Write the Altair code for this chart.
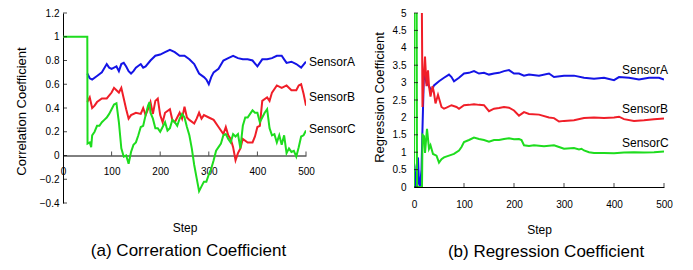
import altair as alt
import pandas as pd

FONT = "Liberation Sans"
series_names = ["SensorA", "SensorB", "SensorC"]
colors = ["#1414e6", "#f01e28", "#1edc1e"]

# ---------------- (a) Correlation coefficient ----------------
corr_a_steps = [50, 55, 60, 70, 80, 90, 95, 100, 105, 110, 115, 120, 125, 130, 135,
                140, 145, 150, 160, 165, 170, 180, 190, 200, 210, 220, 230, 240, 250, 260,
                270, 280, 290, 295, 300, 305, 310, 320, 330, 340, 350, 360, 370, 380, 390,
                400, 410, 420, 430, 440, 450, 455, 460, 470, 480, 490, 500]
corr_a_vals = [0.69, 0.65, 0.64, 0.67, 0.70, 0.77, 0.74, 0.73, 0.74, 0.75, 0.71, 0.77, 0.78, 0.75, 0.71,
               0.69, 0.71, 0.74, 0.77, 0.74, 0.75, 0.80, 0.84, 0.85, 0.87, 0.89, 0.87, 0.84, 0.84, 0.81,
               0.77, 0.69, 0.66, 0.64, 0.60, 0.66, 0.70, 0.73, 0.80, 0.82, 0.84, 0.82, 0.81, 0.81, 0.80,
               0.75, 0.81, 0.81, 0.82, 0.84, 0.84, 0.81, 0.78, 0.79, 0.77, 0.74, 0.79]

corr_b_steps = [50, 55, 60, 65, 70, 80, 90, 100, 105, 110, 115, 120, 125, 130, 135,
                140, 150, 160, 165, 170, 175, 180, 185, 190, 195, 200, 205, 210, 220, 225,
                230, 240, 245, 250, 255, 260, 270, 275, 280, 285, 290, 300, 310, 320, 330,
                335, 340, 345, 350, 355, 360, 365, 370, 380, 390, 395, 400, 405, 410, 420,
                425, 430, 440, 450, 460, 470, 480, 485, 490, 495, 500]
corr_b_vals = [0.45, 0.49, 0.40, 0.42, 0.45, 0.48, 0.48, 0.53, 0.57, 0.55, 0.53, 0.57, 0.48, 0.39, 0.31,
               0.34, 0.36, 0.35, 0.40, 0.34, 0.39, 0.45, 0.35, 0.46, 0.48, 0.34, 0.28, 0.36, 0.39, 0.30,
               0.28, 0.36, 0.31, 0.41, 0.32, 0.30, 0.27, 0.31, 0.36, 0.31, 0.34, 0.32, 0.30, 0.24, 0.18,
               0.24, 0.17, 0.14, 0.07, -0.04, 0.02, 0.06, 0.14, 0.11, 0.11, 0.16, 0.24, 0.25, 0.46, 0.49,
               0.46, 0.53, 0.59, 0.57, 0.59, 0.55, 0.55, 0.59, 0.60, 0.52, 0.42]

corr_c_steps = [0, 50, 50.5, 55, 58, 60, 65, 70, 75, 80, 85, 90, 95, 100, 105,
                110, 115, 120, 125, 130, 135, 140, 145, 150, 155, 160, 165, 170, 175, 178,
                180, 185, 190, 195, 200, 205, 210, 215, 220, 225, 230, 235, 240, 245, 250,
                255, 260, 265, 270, 275, 280, 285, 290, 295, 300, 305, 310, 315, 320, 325,
                330, 335, 340, 345, 350, 355, 360, 365, 370, 375, 380, 385, 390, 395, 400,
                405, 410, 415, 420, 425, 430, 435, 440, 445, 450, 455, 460, 465, 470, 475,
                480, 485, 490, 495, 500]
corr_c_vals = [1, 1, 0.10, 0.11, 0.07, 0.17, 0.20, 0.25, 0.25, 0.28, 0.30, 0.32, 0.35, 0.39, 0.43,
               0.44, 0.28, 0.06, -0.01, 0.00, -0.07, 0.03, 0.09, 0.11, 0.17, 0.24, 0.25, 0.34, 0.42, 0.45,
               0.36, 0.31, 0.23, 0.23, 0.20, 0.24, 0.28, 0.21, 0.23, 0.30, 0.28, 0.25, 0.31, 0.35, 0.32,
               0.24, 0.17, 0.06, -0.08, -0.19, -0.30, -0.26, -0.22, -0.22, -0.16, -0.11, -0.04, 0.04, 0.07, 0.10,
               0.17, 0.18, 0.14, 0.11, 0.18, 0.16, 0.18, 0.06, 0.25, 0.32, 0.32, 0.35, 0.38, 0.36, 0.36,
               0.28, 0.32, 0.36, 0.39, 0.23, 0.17, 0.18, 0.11, 0.17, 0.09, 0.17, 0.02, 0.06, 0.03, 0.04,
               -0.01, 0.07, 0.16, 0.17, 0.21]

corr_yticks = [1.2, 1, 0.8, 0.6, 0.4, 0.2, 0, -0.2, -0.4]
corr_label_vals = [0.79, 0.49, 0.22]

# ---------------- (b) Regression coefficient ----------------
reg_a_steps = [2, 5, 8, 10, 12, 15, 17, 20, 25, 30, 35, 40, 50, 60, 70,
               75, 80, 90, 100, 110, 120, 130, 140, 150, 160, 170, 180, 190, 200, 210,
               220, 230, 250, 270, 280, 300, 320, 340, 360, 380, 400, 410, 430, 450, 470,
               490, 500]
reg_a_vals = [0.0, 0.6, 0.85, 0.1, 0.0, 0.5, 1.7, 3.35, 2.99, 2.90, 2.75, 2.92, 3.04, 3.14, 3.23,
              3.16, 3.04, 3.14, 3.26, 3.28, 3.33, 3.26, 3.28, 3.23, 3.26, 3.28, 3.33, 3.36, 3.26, 3.26,
              3.20, 3.23, 3.20, 3.26, 3.16, 3.20, 3.20, 3.14, 3.11, 3.14, 3.07, 3.16, 3.14, 3.09, 3.14,
              3.14, 3.09]

reg_b_steps = [14, 17, 19, 22, 25, 28, 30, 33, 37, 40, 43, 48, 55, 60, 65,
               75, 85, 90, 100, 110, 120, 130, 140, 150, 160, 170, 180, 190, 200, 210,
               220, 230, 250, 270, 280, 290, 300, 320, 340, 360, 380, 400, 410, 420, 440,
               460, 480, 500]
reg_b_vals = [9, 2.3, 3.0, 3.75, 2.9, 3.35, 2.9, 2.6, 2.9, 2.7, 2.4, 2.65, 2.3, 2.25, 2.28,
              2.35, 2.3, 2.25, 2.35, 2.36, 2.38, 2.36, 2.35, 2.18, 2.25, 2.27, 2.3, 2.28, 2.2, 2.05,
              2.15, 2.1, 2.08, 2.0, 1.98, 1.88, 1.9, 1.92, 1.98, 2.0, 1.98, 2.0, 2.02, 1.95, 1.9,
              1.92, 1.95, 1.97]

reg_c_steps = [0, 1, 5, 6, 16, 17, 20, 22, 26, 30, 33, 38, 45, 50, 55,
               60, 70, 80, 90, 95, 100, 110, 120, 130, 140, 150, 160, 170, 180, 190,
               200, 210, 215, 220, 230, 240, 260, 280, 290, 300, 320, 330, 335, 340, 350,
               360, 380, 400, 420, 440, 460, 480, 500]
reg_c_vals = [0, 8, 8, 0, 0, 1.5, 1.46, 0.98, 1.67, 1.1, 1.2, 0.95, 0.9, 0.7, 0.8,
              0.85, 0.9, 0.95, 1.05, 1.15, 1.29, 1.35, 1.42, 1.38, 1.35, 1.3, 1.35, 1.35, 1.38, 1.4,
              1.37, 1.38, 1.35, 1.2, 1.18, 1.2, 1.17, 1.2, 1.15, 1.1, 1.12, 1.08, 1.1, 1.05, 1.0,
              0.98, 0.98, 0.97, 0.99, 1.0, 0.99, 1.0, 1.02]

reg_yticks = [5, 4.5, 4, 3.5, 3, 2.5, 2, 1.5, 1, 0.5, 0]
reg_label_vals = [3.36, 2.24, 1.26]

xticks = [0, 100, 200, 300, 400, 500]


def frame(steps_list, vals_list):
    rows = []
    for name, st, vl in zip(series_names, steps_list, vals_list):
        for s, v in zip(st, vl):
            rows.append({"series": name, "step": s, "value": v})
    return pd.DataFrame(rows)


color = alt.Color("series:N", scale=alt.Scale(domain=series_names, range=colors), legend=None)


def panel(df, ydomain, yticks, label_step, label_vals, xtick_base, width, height,
          xoffset, xlabpad, xtitley, ylabpad, ytitle, ytitlex, ytitley, title, toff, tdx):
    xscale = alt.Scale(domain=[0, 500], nice=False)
    yscale = alt.Scale(domain=ydomain, nice=False, zero=False)
    xaxis = alt.Axis(values=xticks, ticks=False, grid=False, domainColor="black",
                     labelFontSize=10, labelPadding=xlabpad, labelFlush=False, labelColor="black",
                     labelOverlap=False, offset=xoffset, title="Step", titleFontSize=12,
                     titleFontWeight="normal", titleY=xtitley, titleBaseline="middle",
                     titleColor="black", format="d")
    yaxis = alt.Axis(values=yticks, ticks=False, grid=False, domainColor="black",
                     labelFontSize=10, labelPadding=ylabpad, labelFlush=False, labelColor="black",
                     labelOverlap=False, labelBound=False, format="~g", title=ytitle,
                     titleFontSize=13, titleFontWeight="normal", titleX=ytitlex, titleY=ytitley,
                     titleBaseline="middle", titleColor="black")
    lines = alt.Chart(df).mark_line(strokeWidth=2, clip=True).encode(
        x=alt.X("step:Q", scale=xscale, axis=xaxis),
        y=alt.Y("value:Q", scale=yscale, axis=yaxis),
        color=color,
        detail="series:N",
    )
    yt = pd.DataFrame({"step": [0] * len(yticks), "value": yticks})
    ytick_layer = alt.Chart(yt).mark_tick(orient="horizontal", size=4, thickness=1,
                                          color="black", xOffset=2).encode(
        x=alt.X("step:Q", axis=xaxis), y=alt.Y("value:Q", axis=yaxis))
    xt = pd.DataFrame({"step": xticks[1:], "value": [xtick_base] * (len(xticks) - 1)})
    xtick_layer = alt.Chart(xt).mark_tick(orient="vertical", size=4, thickness=1,
                                          color="black", yOffset=-2).encode(
        x=alt.X("step:Q", axis=xaxis), y=alt.Y("value:Q", axis=yaxis))
    lab = pd.DataFrame({"step": [label_step] * 3, "value": label_vals, "name": series_names})
    labels = alt.Chart(lab).mark_text(align="left", baseline="middle", dx=3, fontSize=12,
                                      font=FONT, color="black").encode(
        x=alt.X("step:Q", axis=xaxis), y=alt.Y("value:Q", axis=yaxis), text="name:N")
    return alt.layer(lines, ytick_layer, xtick_layer, labels).properties(
        width=width, height=height,
        title=alt.TitleParams(title, orient="bottom", frame="group", offset=toff, dx=tdx,
                              fontSize=17, fontWeight="normal", font=FONT, color="black"),
    )


corr_df = frame([corr_a_steps, corr_b_steps, corr_c_steps], [corr_a_vals, corr_b_vals, corr_c_vals])
reg_df = frame([reg_a_steps, reg_b_steps, reg_c_steps], [reg_a_vals, reg_b_vals, reg_c_vals])

left = panel(corr_df, [-0.4, 1.2], corr_yticks, 500, corr_label_vals, 0, 243, 190,
             -47.5, 11, 72, 4, "Correlation Coefficient", -42, 98,
             "(a) Correration Coefficient", 9, 4)
right = panel(reg_df, [0, 5], reg_yticks, 410, reg_label_vals, 0, 250, 174,
              0, 12, 42, 8, "Regression Coefficient", -35, 84,
              "(b) Regression Coefficient", 9, 7)

chart = alt.hconcat(left, right, spacing=108, bounds="flush").properties(
    padding={"left": 7, "top": 0, "right": 0, "bottom": 0}
).configure(font=FONT).configure_view(stroke=None).configure_axis(labelOverlap=False)

chart.save("out.html", embed_options={"renderer": "svg", "actions": False})
